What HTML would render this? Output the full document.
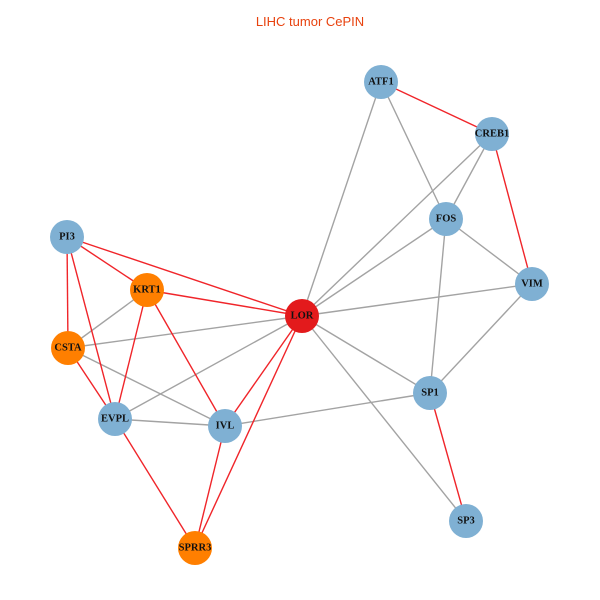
<!DOCTYPE html>
<html><head><meta charset="utf-8"><style>
html,body{margin:0;padding:0;background:#fff;}
svg{display:block}
.t{font-family:"Liberation Serif",serif;font-weight:bold;font-size:10.5px;fill:#111;text-anchor:middle;dominant-baseline:central}
</style></head><body>
<svg width="600" height="600" viewBox="0 0 600 600">
<rect width="600" height="600" fill="#fff"/>
<text x="310" y="26" font-family="Liberation Sans, sans-serif" font-size="13" fill="#e8420e" text-anchor="middle">LIHC tumor CePIN</text>
<g stroke="#a3a3a3" stroke-width="1.4">
<line x1="381" y1="82" x2="302" y2="316"/>
<line x1="381" y1="82" x2="446" y2="219"/>
<line x1="492" y1="134" x2="446" y2="219"/>
<line x1="492" y1="134" x2="302" y2="316"/>
<line x1="446" y1="219" x2="302" y2="316"/>
<line x1="446" y1="219" x2="532" y2="284"/>
<line x1="446" y1="219" x2="430" y2="393"/>
<line x1="532" y1="284" x2="302" y2="316"/>
<line x1="532" y1="284" x2="430" y2="393"/>
<line x1="302" y1="316" x2="430" y2="393"/>
<line x1="302" y1="316" x2="466" y2="521"/>
<line x1="302" y1="316" x2="68" y2="348"/>
<line x1="302" y1="316" x2="115" y2="419"/>
<line x1="147" y1="290" x2="68" y2="348"/>
<line x1="68" y1="348" x2="225" y2="426"/>
<line x1="115" y1="419" x2="225" y2="426"/>
<line x1="225" y1="426" x2="430" y2="393"/>
</g>
<g stroke="#f0252a" stroke-width="1.4">
<line x1="381" y1="82" x2="492" y2="134"/>
<line x1="492" y1="134" x2="532" y2="284"/>
<line x1="67" y1="237" x2="147" y2="290"/>
<line x1="67" y1="237" x2="302" y2="316"/>
<line x1="67" y1="237" x2="68" y2="348"/>
<line x1="67" y1="237" x2="115" y2="419"/>
<line x1="147" y1="290" x2="302" y2="316"/>
<line x1="147" y1="290" x2="115" y2="419"/>
<line x1="147" y1="290" x2="225" y2="426"/>
<line x1="68" y1="348" x2="115" y2="419"/>
<line x1="302" y1="316" x2="225" y2="426"/>
<line x1="302" y1="316" x2="195" y2="548"/>
<line x1="225" y1="426" x2="195" y2="548"/>
<line x1="115" y1="419" x2="195" y2="548"/>
<line x1="430" y1="393" x2="466" y2="521"/>
</g>
<g>
<circle cx="381" cy="82" r="17" fill="#7fb0d3"/><text class="t" x="381" y="82">ATF1</text>
<circle cx="492" cy="134" r="17" fill="#7fb0d3"/><text class="t" x="492" y="134">CREB1</text>
<circle cx="446" cy="219" r="17" fill="#7fb0d3"/><text class="t" x="446" y="219">FOS</text>
<circle cx="532" cy="284" r="17" fill="#7fb0d3"/><text class="t" x="532" y="284">VIM</text>
<circle cx="302" cy="316" r="17" fill="#e31a1c"/><text class="t" x="302" y="316">LOR</text>
<circle cx="67" cy="237" r="17" fill="#7fb0d3"/><text class="t" x="67" y="237">PI3</text>
<circle cx="147" cy="290" r="17" fill="#ff7f00"/><text class="t" x="147" y="290">KRT1</text>
<circle cx="68" cy="348" r="17" fill="#ff7f00"/><text class="t" x="68" y="348">CSTA</text>
<circle cx="115" cy="419" r="17" fill="#7fb0d3"/><text class="t" x="115" y="419">EVPL</text>
<circle cx="225" cy="426" r="17" fill="#7fb0d3"/><text class="t" x="225" y="426">IVL</text>
<circle cx="430" cy="393" r="17" fill="#7fb0d3"/><text class="t" x="430" y="393">SP1</text>
<circle cx="466" cy="521" r="17" fill="#7fb0d3"/><text class="t" x="466" y="521">SP3</text>
<circle cx="195" cy="548" r="17" fill="#ff7f00"/><text class="t" x="195" y="548">SPRR3</text>
</g>
</svg>
</body></html>
